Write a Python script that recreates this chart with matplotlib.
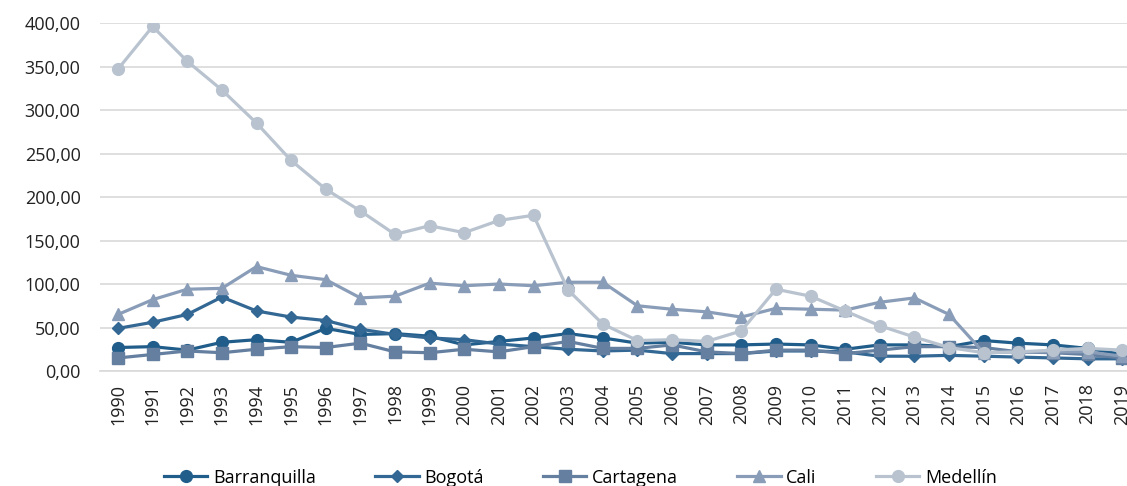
import numpy as np
import matplotlib.pyplot as plt

plt.rcParams['font.family'] = ['Open Sans', 'DejaVu Sans']

# Datos (tasas por cada 100.000 habitantes)
anios = list(range(1990, 2020))

barranquilla = [27, 28, 24, 33, 36, 33, 49, 42, 43, 40, 30, 34, 38, 43, 38, 32,
                33, 30, 30, 31, 30, 25, 30, 30, 28, 35, 32, 30, 26, 19]
bogota = [49, 56, 65, 85, 69, 62, 58, 48, 42, 38, 36, 31, 28, 25, 23, 24,
          20, 20, 20, 23, 23, 22, 17, 17, 18, 17, 16, 15, 14, 14]
cartagena = [15, 19, 23, 21, 25, 28, 27, 32, 22, 21, 25, 22, 28, 34, 26, 26,
             30, 22, 20, 24, 24, 20, 24, 28, 28, 27, 22, 21, 19, 15]
cali = [65, 82, 94, 95, 120, 110, 105, 84, 86, 101, 98, 100, 98, 102, 102, 75,
        71, 68, 62, 72, 71, 70, 79, 84, 65, 21, 22, 22, 22, 17]
medellin = [347, 396, 356, 323, 285, 242, 209, 184, 157, 167, 159, 173, 179, 93, 54, 35,
            36, 34, 46, 94, 86, 69, 52, 39, 27, 21, 22, 24, 26, 24]

series = [
    ("Barranquilla", barranquilla, "o", "#215d8b"),
    ("Bogotá", bogota, "D", "#346894"),
    ("Cartagena", cartagena, "s", "#647f9f"),
    ("Cali", cali, "^", "#8a9db8"),
    ("Medellín", medellin, "o", "#b8c3cf"),
]

fig = plt.figure(figsize=(11.27, 4.86), dpi=100)
ax = fig.add_axes([100 / 1127, (486 - 371) / 486, 1 - 100 / 1127, (371 - 23) / 486])

x = np.arange(len(anios))
for nombre, valores, marcador, color in series:
    ms = 8.5 if marcador != "D" else 6.5
    ax.plot(x, valores, color=color, marker=marcador, markersize=ms,
            linewidth=2.3, label=nombre)

ax.set_xlim(-0.52, 29.14)
ax.set_ylim(0, 400)
ax.set_yticks(np.arange(0, 401, 50))
ax.set_yticklabels([f"{v:.2f}".replace(".", ",") for v in range(0, 401, 50)],
                   fontsize=13, color="#222222")
ax.set_xticks(x)
ax.set_xticklabels([str(a) for a in anios], rotation=90, fontsize=13, color="#222222")
ax.tick_params(axis="both", length=0)
ax.tick_params(axis="x", pad=9)
ax.tick_params(axis="y", pad=14)

ax.grid(axis="y", color="#d9d9d9", linewidth=1.2)
ax.set_axisbelow(True)
for s in ["top", "right", "left"]:
    ax.spines[s].set_visible(False)
ax.spines["bottom"].set_color("#d9d9d9")
ax.spines["bottom"].set_linewidth(1.2)

fig.legend(loc="center", bbox_to_anchor=(0.515, 0.017), ncol=5, frameon=False,
           fontsize=13, handlelength=2.4, columnspacing=3.3, handletextpad=0.3)

fig.savefig("out.png", dpi=100)
